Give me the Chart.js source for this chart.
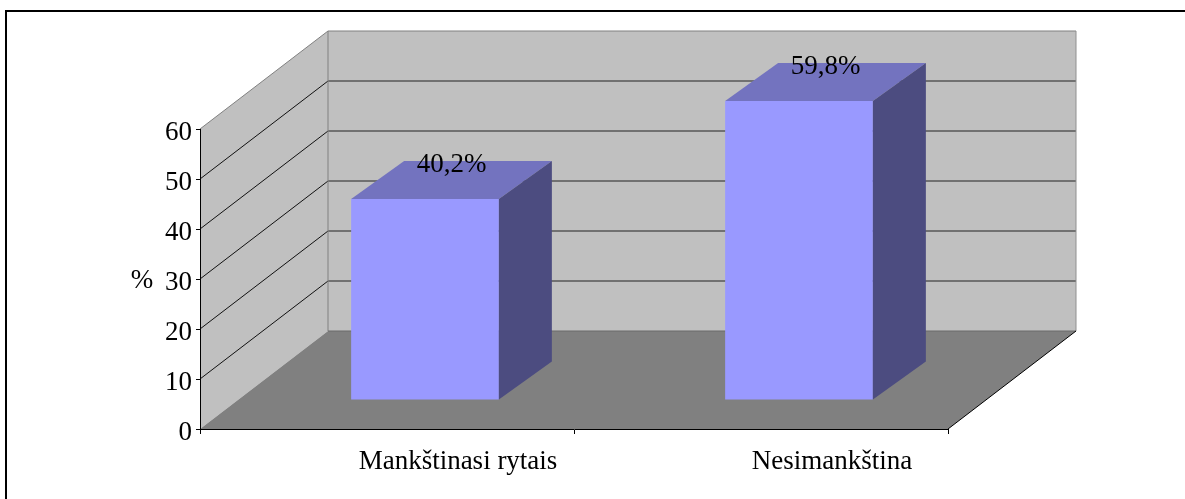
<!DOCTYPE html>
<html>
<head>
<meta charset="utf-8">
<script src="https://cdn.jsdelivr.net/npm/chart.js@4.4.1/dist/chart.umd.min.js"></script>
<style>
  html, body { margin: 0; padding: 0; background: #ffffff; }
  #wrap { position: relative; width: 1185px; height: 499px; }
</style>
</head>
<body>
<div id="wrap"><canvas id="exerciseChart"></canvas></div>
<script>
// chart data
const categories = ['Mankštinasi rytais', 'Nesimankština'];
const shares = [40.2, 59.8];
const yTicks = [0, 10, 20, 30, 40, 50, 60];

// depth of the box (walls / floor) and of the bars
const DEPTH = { x: 128, y: -98 };
const BAR_SHIFT = { x: 38, y: -29 };
const BAR_DEPTH = { x: 53, y: -38 };

const FONT = "'Liberation Serif', 'Times New Roman', serif";

function poly(ctx, pts, fill, stroke) {
    ctx.beginPath();
    ctx.moveTo(pts[0][0], pts[0][1]);
    for (let i = 1; i < pts.length; i++) ctx.lineTo(pts[i][0], pts[i][1]);
    ctx.closePath();
    if (fill) { ctx.fillStyle = fill; ctx.fill(); }
    if (stroke) { ctx.strokeStyle = stroke; ctx.lineWidth = 1; ctx.stroke(); }
}

function line(ctx, x1, y1, x2, y2, color) {
    ctx.beginPath();
    ctx.moveTo(x1, y1);
    ctx.lineTo(x2, y2);
    ctx.strokeStyle = color;
    ctx.lineWidth = 1;
    ctx.stroke();
}

const box3d = {
    id: 'box3d',
    beforeDraw(chart) {
        const ctx = chart.ctx;
        const xs = chart.scales.x, ys = chart.scales.y;
        const L = xs.left, R = xs.right;
        const y0 = ys.getPixelForValue(0), yTop = ys.getPixelForValue(yTicks[yTicks.length - 1]);
        const dx = DEPTH.x, dy = DEPTH.y;

        ctx.save();
        // outer frame
        ctx.strokeStyle = '#000';
        ctx.lineWidth = 2;
        ctx.strokeRect(6, 11, chart.width + 20, chart.height + 20);

        // side wall, back wall, floor
        poly(ctx, [[L, y0], [L, yTop], [L + dx, yTop + dy], [L + dx, y0 + dy]], '#c0c0c0');
        poly(ctx, [[L + dx, yTop + dy], [R + dx, yTop + dy], [R + dx, y0 + dy], [L + dx, y0 + dy]], '#c0c0c0');
        poly(ctx, [[L, y0], [R, y0], [R + dx, y0 + dy], [L + dx, y0 + dy]], '#808080');

        // gridlines on the walls
        yTicks.forEach(v => {
            if (v === 0 || v === yTicks[yTicks.length - 1]) return;
            const y = ys.getPixelForValue(v);
            line(ctx, L, y, L + dx, y + dy, '#111');
            line(ctx, L + dx, y + dy, R + dx, y + dy, '#222');
        });

        // wall edges
        line(ctx, L, yTop, L + dx, yTop + dy, '#808080');
        line(ctx, L + dx, yTop + dy, R + dx, yTop + dy, '#808080');
        line(ctx, L + dx, yTop + dy, L + dx, y0 + dy, '#808080');
        line(ctx, R + dx, yTop + dy, R + dx, y0 + dy, '#909090');
        line(ctx, L + dx, y0 + dy, R + dx, y0 + dy, '#6a6a6a');
        line(ctx, R, y0, R + dx, y0 + dy, '#000');

        // axis unit
        ctx.fillStyle = '#000';
        ctx.font = '27px ' + FONT;
        ctx.textAlign = 'center';
        ctx.textBaseline = 'middle';
        ctx.fillText('%', L - 58, ys.getPixelForValue(30) + 2);
        ctx.restore();
    },
    beforeDatasetsDraw(chart) {
        chart.ctx.save();
        chart.ctx.translate(BAR_SHIFT.x, BAR_SHIFT.y);
    },
    afterDatasetsDraw(chart) {
        const ctx = chart.ctx;
        const meta = chart.getDatasetMeta(0);
        meta.data.forEach(bar => {
            const l = bar.x - bar.width / 2, r = bar.x + bar.width / 2;
            const t = bar.y, b = bar.base;
            const bx = BAR_DEPTH.x, by = BAR_DEPTH.y;
            poly(ctx, [[l, t], [r, t], [r + bx, t + by], [l + bx, t + by]], '#7373bf');
            poly(ctx, [[r, t], [r + bx, t + by], [r + bx, b + by], [r, b]], '#4c4c80');
        });
        ctx.restore();

        // value labels above the bar tops
        ctx.save();
        ctx.fillStyle = '#000';
        ctx.font = '27px ' + FONT;
        ctx.textAlign = 'center';
        ctx.textBaseline = 'alphabetic';
        meta.data.forEach((bar, i) => {
            const cx = bar.x + BAR_SHIFT.x + BAR_DEPTH.x / 2;
            const cy = bar.y + BAR_SHIFT.y + BAR_DEPTH.y / 2;
            const txt = shares[i].toFixed(1).replace('.', ',') + '%';
            ctx.fillText(txt, cx, cy - 8);
        });
        ctx.restore();
    }
};

Chart.defaults.font.family = FONT;
Chart.defaults.color = '#000';

const ctx = document.getElementById('exerciseChart').getContext('2d');
new Chart(ctx, {
    type: 'bar',
    data: {
        labels: categories,
        datasets: [{
            data: shares,
            backgroundColor: '#9999ff',
            borderWidth: 0,
            categoryPercentage: 1,
            barPercentage: 0.395,
            clip: false
        }]
    },
    options: {
        responsive: true,
        maintainAspectRatio: false,
        animation: false,
        events: [],
        layout: { padding: { left: 0, top: 129, right: 237, bottom: 0 } },
        plugins: {
            legend: { display: false },
            tooltip: { enabled: false }
        },
        scales: {
            x: {
                grid: { drawOnChartArea: false, drawTicks: true, tickLength: 5, color: '#000' },
                border: { color: '#000', width: 1 },
                ticks: { font: { size: 27 }, color: '#000', padding: 12, labelOffset: 71, maxRotation: 0 },
                afterFit(scale) { scale.height = 70; }
            },
            y: {
                min: 0,
                max: 60,
                grid: { drawOnChartArea: false, drawTicks: true, tickLength: 4, color: '#000' },
                border: { color: '#000', width: 1 },
                ticks: { stepSize: 10, font: { size: 27 }, color: '#000', padding: 4, labelOffset: 4 },
                afterFit(scale) { scale.width = 200; }
            }
        }
    },
    plugins: [box3d]
});
</script>
</body>
</html>
